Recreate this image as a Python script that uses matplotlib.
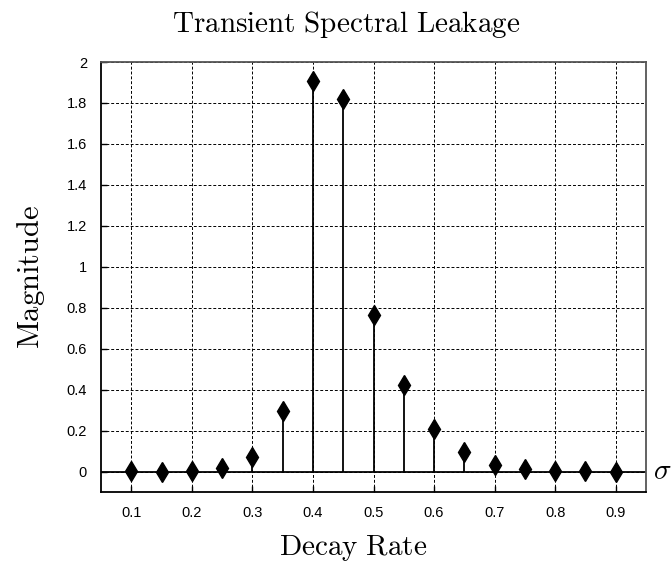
import matplotlib.pyplot as plt

plt.rcParams['mathtext.fontset'] = 'cm'
plt.rcParams['font.family'] = ['Liberation Sans', 'DejaVu Sans']

# decay rate sweep and leakage magnitude at each rate
decay_rate = [0.10, 0.15, 0.20, 0.25, 0.30, 0.35, 0.40, 0.45, 0.50,
              0.55, 0.60, 0.65, 0.70, 0.75, 0.80, 0.85, 0.90]
magnitude = [0.002, 0.0, 0.001, 0.015, 0.07, 0.297, 1.907, 1.82, 0.766,
             0.424, 0.21, 0.093, 0.03, 0.01, 0.003, 0.001, 0.0]

x_ticks = [0.1, 0.2, 0.3, 0.4, 0.5, 0.6, 0.7, 0.8, 0.9]
y_ticks = [0, 0.2, 0.4, 0.6, 0.8, 1.0, 1.2, 1.4, 1.6, 1.8, 2.0]
y_tick_labels = ['0', '0.2', '0.4', '0.6', '0.8', '1', '1.2', '1.4', '1.6', '1.8', '2']

fig = plt.figure(figsize=(6.71, 5.62), dpi=100)
ax = fig.add_axes([101 / 671, 70 / 562, 545 / 671, 430 / 562])

ax.axhline(0, color='black', lw=1.3, zorder=2)
ax.vlines(decay_rate, 0, magnitude, color='black', lw=1.3, zorder=2)
ax.plot(decay_rate, magnitude, 'd', color='black', markersize=10, zorder=3)

ax.set_xlim(0.05, 0.95)
ax.set_ylim(-0.1, 2.0)
ax.set_xticks(x_ticks)
ax.set_xticklabels([f'{t:g}' for t in x_ticks])
ax.set_yticks(y_ticks)
ax.set_yticklabels(y_tick_labels)
ax.tick_params(direction='in', length=4, width=1, labelsize=10.5, pad=10)
ax.grid(True, color='black', linestyle=(0, (3, 2)), lw=0.7)
ax.set_axisbelow(True)
for side in ['left', 'bottom']:
    ax.spines[side].set_color('black')
    ax.spines[side].set_linewidth(1.3)
for side in ['top', 'right']:
    ax.spines[side].set_color('#555555')
    ax.spines[side].set_linewidth(1.3)

fig.text(346 / 671, 1 - 32 / 562, r'$\mathrm{Transient\ Spectral\ Leakage}$',
         fontsize=21, ha='center', va='baseline')
fig.text(353 / 671, 1 - 555 / 562, r'$\mathrm{Decay\ Rate}$',
         fontsize=21, ha='center', va='baseline')
ax.set_ylabel(r'$\mathrm{Magnitude}$', fontsize=22, labelpad=14)
ax.text(1.012, 0, r'$\sigma$', transform=ax.get_yaxis_transform(),
        fontsize=21, va='center', ha='left')

fig.savefig('out.png', dpi=100)
